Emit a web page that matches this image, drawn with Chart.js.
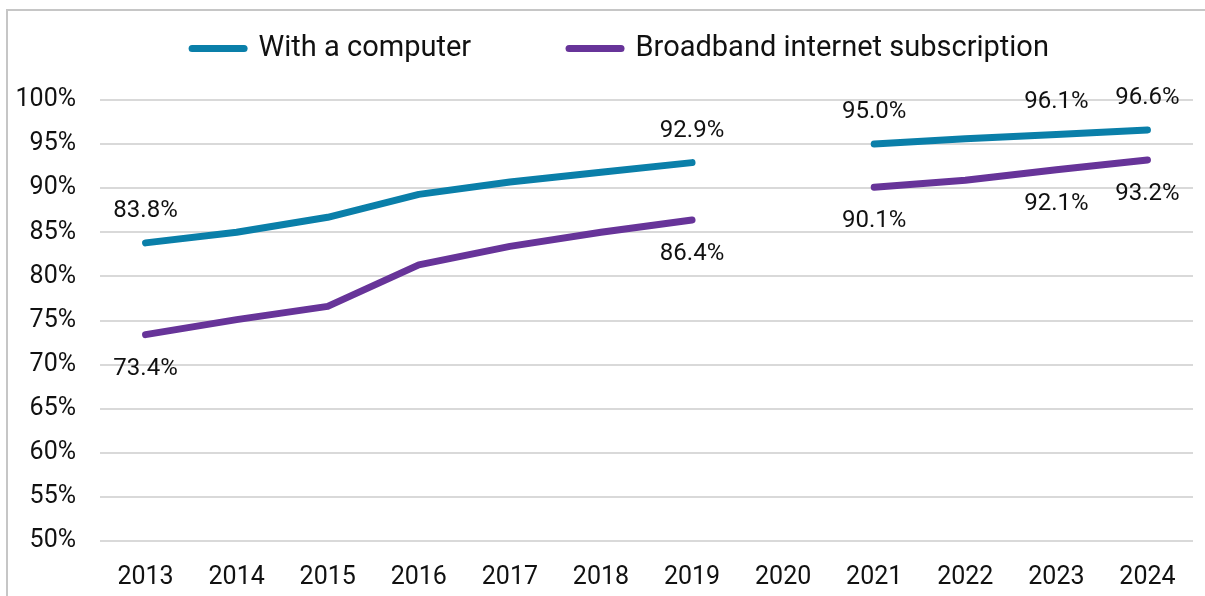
<!DOCTYPE html>
<html>
<head>
<meta charset="utf-8">
<script src="https://cdn.jsdelivr.net/npm/chart.js@4.4.1/dist/chart.umd.min.js"></script>
<style>
  html, body { margin: 0; padding: 0; background: #fff; overflow: hidden; }
  #wrap { position: relative; width: 1205px; height: 596px; }
  #frame { position: absolute; left: 6px; top: 9px; width: 1400px; height: 800px; border: 2px solid #c6c6c6; box-sizing: border-box; }
  #c { position: absolute; left: 0; top: 0; }
</style>
</head>
<body>
<div id="wrap">
  <div id="frame"></div>
  <canvas id="c" width="1205" height="596"></canvas>
</div>
<script>
  // household access, share of households (%)
  const YEARS = ['2013','2014','2015','2016','2017','2018','2019','2020','2021','2022','2023','2024'];
  const computer  = [83.8, 85.0, 86.7, 89.3, 90.7, 91.8, 92.9, null, 95.0, 95.6, 96.1, 96.6];
  const broadband = [73.4, 75.1, 76.6, 81.3, 83.4, 85.0, 86.4, null, 90.1, 90.9, 92.1, 93.2];
  const Y_TICKS = [50, 55, 60, 65, 70, 75, 80, 85, 90, 95, 100];

  // which points carry a value label
  const computerLabelIdx  = [0, 6, 8, 10, 11];
  const broadbandLabelIdx = [0, 6, 8, 10, 11];

  const FONT = 'Roboto, "Noto Sans", sans-serif';
  const BLUE = '#0a7fa9';
  const PURPLE = '#673499';

  const pointLabels = {
    id: 'pointLabels',
    afterDatasetsDraw(chart) {
      const ctx = chart.ctx;
      const sets = [
        { meta: chart.getDatasetMeta(0), idx: computerLabelIdx, vals: computer, dy: -32 },
        { meta: chart.getDatasetMeta(1), idx: broadbandLabelIdx, vals: broadband, dy: 34 }
      ];
      ctx.save();
      ctx.font = '24px ' + FONT;
      ctx.fillStyle = '#111';
      ctx.textAlign = 'center';
      ctx.textBaseline = 'middle';
      sets.forEach(s => {
        s.idx.forEach(i => {
          const pt = s.meta.data[i];
          if (!pt || s.vals[i] == null) return;
          ctx.fillText(s.vals[i].toFixed(1) + '%', pt.x, pt.y + s.dy);
        });
      });
      ctx.restore();
    }
  };

  // legend sits a bit right of centre, with extra room under it
  const legendTweak = {
    id: 'legendTweak',
    afterInit(chart) {
      const lg = chart.legend;
      if (!lg) return;
      const fit = lg.fit, draw = lg.draw;
      lg.fit = function () { fit.call(this); this.height += 27; };
      lg.draw = function () {
        const ctx = this.ctx;
        ctx.save();
        ctx.translate(24, 0);
        draw.call(this);
        ctx.restore();
      };
    }
  };

  new Chart(document.getElementById('c'), {
    type: 'line',
    data: {
      labels: YEARS,
      datasets: [
        { label: 'With a computer', data: computer, borderColor: BLUE, backgroundColor: BLUE },
        { label: 'Broadband internet subscription', data: broadband, borderColor: PURPLE, backgroundColor: PURPLE }
      ]
    },
    options: {
      responsive: false,
      animation: false,
      spanGaps: false,
      layout: { padding: { top: 8, right: 12, bottom: 0, left: 0 } },
      elements: {
        line: { borderWidth: 7, borderCapStyle: 'round', borderJoinStyle: 'round', tension: 0 },
        point: { radius: 0, hoverRadius: 0 }
      },
      plugins: {
        tooltip: { enabled: false },
        legend: {
          position: 'top',
          labels: {
            font: { family: FONT, size: 29 },
            color: '#111',
            usePointStyle: true,
            pointStyleWidth: 52,
            boxHeight: 29,
            padding: 26,
            generateLabels(chart) {
              return chart.data.datasets.map((ds, i) => ({
                // trailing spaces widen the gap between the two entries
                text: i === 0 ? ds.label + '          ' : ds.label,
                datasetIndex: i,
                pointStyle: 'line',
                strokeStyle: ds.borderColor,
                fillStyle: ds.borderColor,
                lineWidth: 7,
                lineCap: 'round',
                fontColor: '#111'
              }));
            }
          }
        }
      },
      scales: {
        x: {
          offset: true,
          afterFit(axis) { axis.height = 55; },
          grid: { display: false, drawTicks: false },
          border: { display: false },
          ticks: { font: { family: FONT, size: 25 }, color: '#111', padding: 22, maxRotation: 0 }
        },
        y: {
          min: Y_TICKS[0],
          max: Y_TICKS[Y_TICKS.length - 1],
          afterBuildTicks(axis) { axis.ticks = Y_TICKS.map(v => ({ value: v })); },
          afterFit(axis) { axis.width = 100; },
          grid: { color: '#d9d9d9', lineWidth: 2, drawTicks: false },
          border: { display: false },
          ticks: { font: { family: FONT, size: 25 }, color: '#111', padding: 24, callback: v => v + '%' }
        }
      }
    },
    plugins: [pointLabels, legendTweak]
  });
</script>
</body>
</html>
